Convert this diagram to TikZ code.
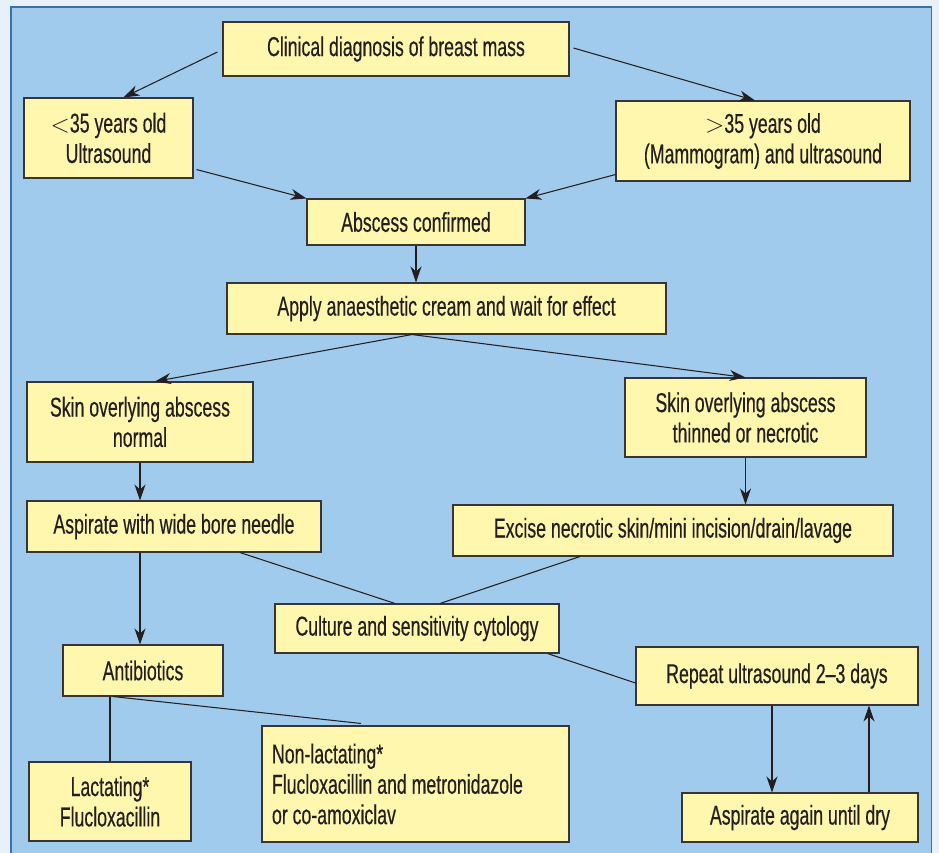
\documentclass[tikz,border=0pt]{standalone}
\usepackage{fontspec}
\setmainfont{Liberation Sans}[FakeStretch=0.65, FakeBold=0.4]
\usepackage{xcolor}
\usetikzlibrary{arrows.meta,positioning,calc}
\definecolor{pageblue}{RGB}{232,241,250}
\definecolor{panelblue}{RGB}{160,203,236}
\definecolor{panelline}{RGB}{58,111,176}
\definecolor{boxyellow}{RGB}{255,247,174}
\definecolor{inkgray}{RGB}{35,31,32}

\begin{document}
\begin{tikzpicture}[
		box/.style={draw=inkgray!90, line width=0.6pt, rectangle, fill=boxyellow, inner sep=0pt, align=center, text=inkgray, font=\fontsize{15.5}{17.3}\selectfont},
		link/.style={draw=inkgray, line width=0.6pt},
		arr/.style={link, -{Stealth[length=0.32cm, width=0.22cm, inset=0.1cm]}}
	]
				% Draw background and panel
				\useasboundingbox (0,0) rectangle (18.78,-17.06);
				\clip (0,0) rectangle (18.78,-17.06);
				\fill[pageblue] (0,0) rectangle (18.78,-17.06);
				\filldraw[fill=panelblue, draw=panelline, line width=0.7pt] (0.22,-0.14) rectangle (18.63,-17.3);
				
				% Draw boxes
				\node[box, minimum width=6.92cm, minimum height=1.08cm] (clin) at (7.92,-0.98) {Clinical diagnosis of breast mass};
				\node[box, minimum width=3.38cm, minimum height=1.6cm] (young) at (2.17,-2.76) {$<$35 years old\\Ultrasound};
				\node[box, minimum width=5.88cm, minimum height=1.6cm] (old) at (15.26,-2.82) {$>$35 years old\\(Mammogram) and ultrasound};
				\node[box, minimum width=4.36cm, minimum height=0.92cm] (absc) at (8.32,-4.44) {Abscess confirmed};
				\node[box, minimum width=8.78cm, minimum height=1.02cm] (cream) at (8.93,-6.17) {Apply anaesthetic cream and wait for effect};
				\node[box, minimum width=4.52cm, minimum height=1.6cm] (normal) at (2.8,-8.44) {Skin overlying abscess\\normal};
				\node[box, minimum width=4.82cm, minimum height=1.58cm] (thin) at (14.91,-8.35) {Skin overlying abscess\\thinned or necrotic};
				\node[box, minimum width=5.88cm, minimum height=1.02cm] (aspir) at (3.48,-10.53) {Aspirate with wide bore needle};
				\node[box, minimum width=8.8cm, minimum height=1.02cm] (excise) at (13.46,-10.61) {Excise necrotic skin/mini incision/drain/lavage};
				\node[box, minimum width=5.68cm, minimum height=0.98cm] (culture) at (8.34,-12.57) {Culture and sensitivity cytology};
				\node[box, minimum width=3.2cm, minimum height=1.02cm] (antib) at (2.86,-13.41) {Antibiotics};
				\node[box, minimum width=5.64cm, minimum height=1.16cm] (repeat) at (15.54,-13.52) {Repeat ultrasound 2--3 days};
				\node[box, minimum width=3.24cm, minimum height=1.58cm] (lact) at (2.2,-16.03) {Lactating*\\Flucloxacillin};
				\node[box, minimum width=6.14cm, minimum height=2.32cm, align=flush left, text width=5.74cm, inner xsep=0.2cm] (nonlact) at (8.31,-15.68) {Non-lactating*\\Flucloxacillin and metronidazole\\or co-amoxiclav};
				\node[box, minimum width=4.72cm, minimum height=0.98cm] (again) at (16.0,-16.35) {Aspirate again until dry};
				
				% Draw connections
				\coordinate (split) at ([xshift=-0.69cm]cream.south);
				\draw[arr] ([xshift=-0.1cm,yshift=-0.06cm]clin.west) -- ([xshift=0.3cm]young.north);
				\draw[arr] ([xshift=0.08cm,yshift=0.02cm]clin.east) -- ([xshift=-0.16cm]old.north);
				\draw[arr] ([xshift=0.06cm,yshift=0.18cm]young.south east) -- (absc.north west);
				\draw[arr] ([yshift=0.14cm]old.south west) -- (absc.north east);
				\draw[arr] (absc.south) -- (absc.south |- cream.north);
				\draw[arr] (split) -- ([xshift=0.3cm]normal.north);
				\draw[arr] (split) -- (thin.north);
				\draw[arr] (normal.south) -- (normal.south |- aspir.north);
				\draw[arr] (thin.south) -- (thin.south |- excise.north);
				\draw[link] ([xshift=1.32cm]aspir.south) -- ([xshift=-0.44cm]culture.north);
				\draw[link] ([xshift=-1.86cm]excise.south) -- ([xshift=0.46cm]culture.north);
				\draw[link] ([xshift=-0.24cm]culture.south east) -- ([yshift=-0.14cm]repeat.west);
				\draw[arr] (normal.south |- aspir.south) -- (normal.south |- antib.north);
				\draw[link] (lact.north |- antib.south) -- (lact.north);
				\draw[link] ([xshift=-0.6cm]antib.south) -- ([xshift=-1.09cm,yshift=0.04cm]nonlact.north);
				\draw[arr] ([xshift=-0.1cm]repeat.south) -- ([xshift=-0.1cm]repeat.south |- again.north);
				\draw[arr] ([xshift=1.38cm]again.north) -- ([xshift=1.38cm]again.north |- repeat.south);
			\end{tikzpicture}
\end{document}
